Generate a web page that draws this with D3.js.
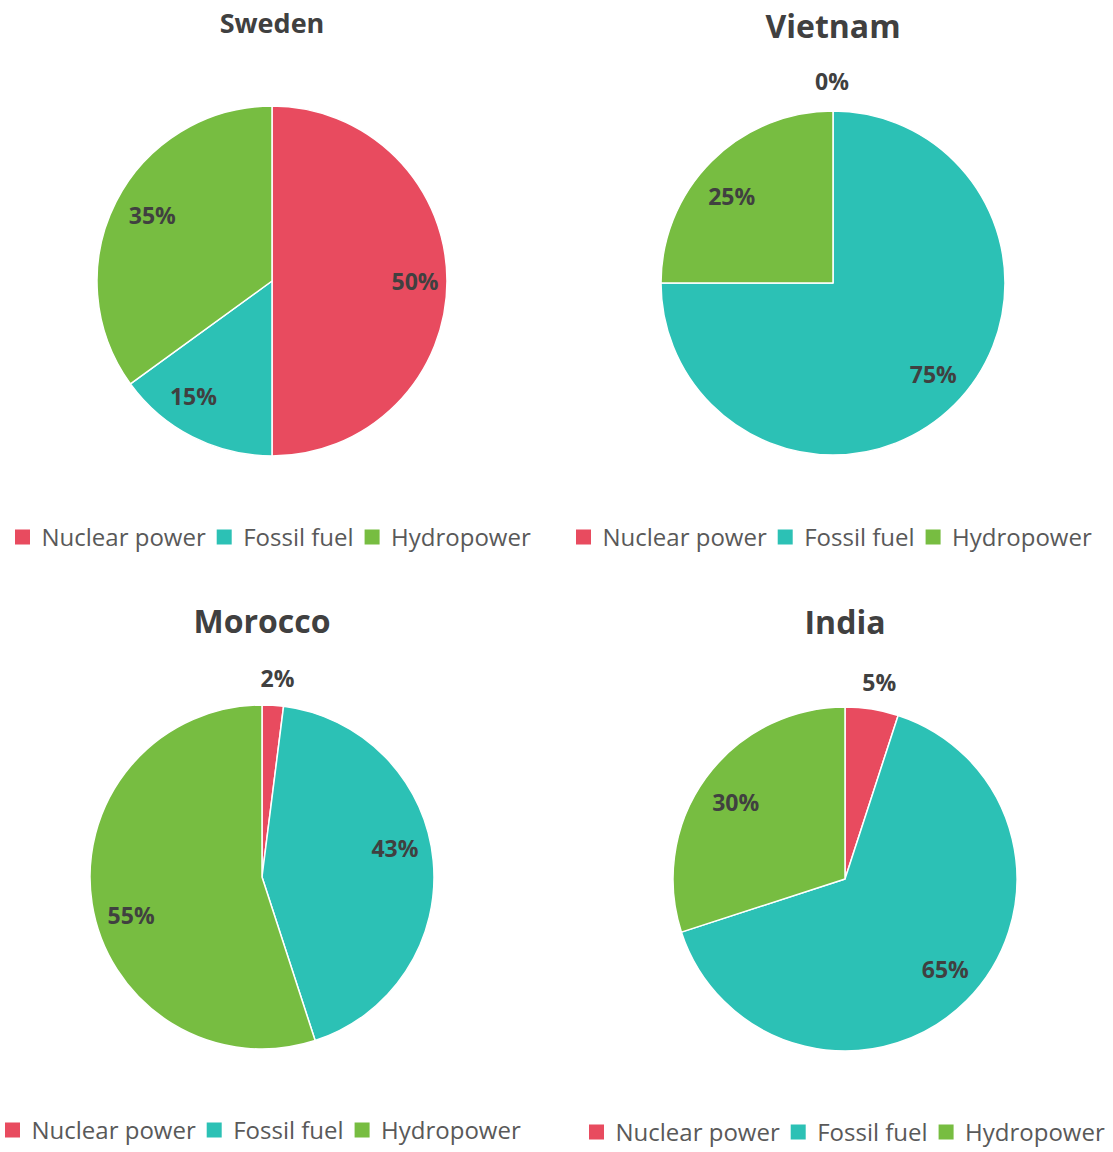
<!DOCTYPE html>
<html>
<head>
<meta charset="utf-8">
<script src="https://cdn.jsdelivr.net/npm/d3@7/dist/d3.min.js"></script>
<style>
  html, body { margin: 0; padding: 0; background: #ffffff; }
  svg { display: block; }
</style>
</head>
<body>
<svg id="chart" width="1113" height="1152"></svg>
<script>
// ---- data ----
const categories = ["Nuclear power", "Fossil fuel", "Hydropower"];
const countries = ["Sweden", "Vietnam", "Morocco", "India"];
const swedenValues = [50, 15, 35];
const vietnamValues = [0, 75, 25];
const moroccoValues = [2, 43, 55];
const indiaValues = [5, 65, 30];
const colors = ["#E84B5F", "#2CC1B5", "#77BD41"];

// ---- layout (not data) ----
const panels = [
  { name: countries[0], values: swedenValues, cx: 272, cy: 281, r: 175, titleY: 33, titleSize: 27, legendX: 15, legendY: 537,
    nudge: [[3, 1], [-15, -9], [5, -2]] },
  { name: countries[1], values: vietnamValues, cx: 833, cy: 283, r: 172, titleY: 38, titleSize: 32, legendX: 576, legendY: 537,
    nudge: [[-1, -2], [3, -6], [-4, 11]] },
  { name: countries[2], values: moroccoValues, cx: 262, cy: 877, r: 172, titleY: 633, titleSize: 32, legendX: 5, legendY: 1130,
    nudge: [[3, 1], [-4, -15], [5, 17]] },
  { name: countries[3], values: indiaValues, cx: 845, cy: 879, r: 172, titleY: 634, titleSize: 32, legendX: 589, legendY: 1132,
    nudge: [[3, 1], [3, -7], [2, 5]] }
];

const svg = d3.select("#chart");
const color = d3.scaleOrdinal().domain(categories).range(colors);
const pie = d3.pie().sort(null).value(d => d.value);

panels.forEach(p => {
  const g = svg.append("g").attr("transform", `translate(${p.cx},${p.cy})`);
  const data = categories.map((c, i) => ({ cat: c, value: p.values[i], idx: i }));
  const arcs = pie(data);
  const arc = d3.arc().innerRadius(0).outerRadius(p.r);
  const labelIn = d3.arc().innerRadius(p.r * 0.8).outerRadius(p.r * 0.8);
  const labelOut = d3.arc().innerRadius(p.r * 1.16).outerRadius(p.r * 1.16);

  g.selectAll("path.slice").data(arcs).join("path")
    .attr("class", "slice")
    .attr("d", arc)
    .attr("fill", d => color(d.data.cat))
    .attr("stroke", "#ffffff")
    .attr("stroke-width", 1.5)
    .attr("stroke-linejoin", "round");

  g.selectAll("text.lbl").data(arcs).join("text")
    .attr("class", "lbl")
    .attr("transform", d => {
      const c = (d.data.value <= 5 ? labelOut : labelIn).centroid(d);
      const n = p.nudge[d.data.idx];
      return `translate(${c[0] + n[0]},${c[1] + n[1]})`;
    })
    .attr("text-anchor", "middle")
    .attr("dy", "0.36em")
    .attr("font-family", "'Open Sans', sans-serif")
    .attr("font-weight", 700)
    .attr("font-size", 23)
    .attr("fill", "#404040")
    .text(d => d.data.value + "%");

  svg.append("text")
    .attr("x", p.cx)
    .attr("y", p.titleY)
    .attr("text-anchor", "middle")
    .attr("font-family", "'Open Sans', sans-serif")
    .attr("font-weight", 700)
    .attr("font-size", p.titleSize)
    .attr("fill", "#404040")
    .text(p.name);

  // legend
  const lg = svg.append("g").attr("transform", `translate(${p.legendX},${p.legendY})`);
  let x = 0;
  categories.forEach((c, i) => {
    lg.append("rect").attr("x", x).attr("y", -7.5).attr("width", 15).attr("height", 15).attr("fill", color(c));
    const t = lg.append("text")
      .attr("x", x + 26.5)
      .attr("y", 0)
      .attr("dy", "0.36em")
      .attr("font-family", "'Open Sans', sans-serif")
      .attr("font-size", 24)
      .attr("fill", "#595959")
      .text(c);
    x += 26.5 + t.node().getComputedTextLength() + 11;
  });
});
</script>
</body>
</html>
